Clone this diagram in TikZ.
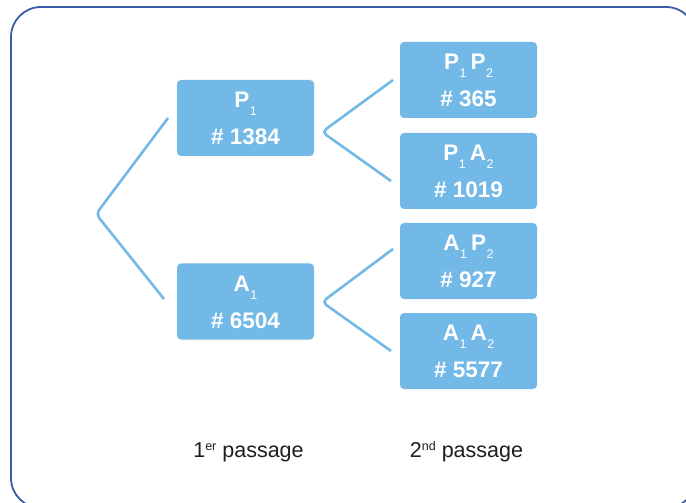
\documentclass[tikz,border=0pt]{standalone}
\usepackage{fontspec}
\setmainfont{Liberation Sans}
\usetikzlibrary{calc}
\definecolor{boxblue}{HTML}{73B9E7}
\definecolor{frameblue}{HTML}{3A5DA8}
\definecolor{captext}{HTML}{1E1E1E}
% lowered index after a letter, raised ordinal suffix
\newcommand\lowidx[1]{\kern0.5bp\raisebox{-8bp}{\fontsize{12.5bp}{12.5bp}\selectfont\mdseries #1}}
\newcommand\upidx[1]{\raisebox{7bp}{\fontsize{12.5bp}{12.5bp}\selectfont #1}}
\begin{document}
\begin{tikzpicture}[x=1bp,y=-1bp,
  box/.style={fill=boxblue, rounded corners=4bp, minimum width=137bp, minimum height=76bp, inner sep=0pt},
  lbl/.style={anchor=base, text=white, font=\fontsize{22.5bp}{22.5bp}\selectfont\bfseries, inner sep=0pt},
  conn/.style={draw=boxblue, line width=2.6bp, rounded corners=5bp},
  coltitle/.style={anchor=base, text=captext, font=\fontsize{21.5bp}{21.5bp}\selectfont, inner sep=0pt}]
\useasboundingbox (0,0) rectangle (686,503);
\clip (0,0) rectangle (686,503);
% outer frame, running past the right and bottom edges
\draw[frameblue, line width=1.8bp, rounded corners=30bp] (11,7) rectangle (696,508);

% first pass
\node[box] (p1) at (245.5,118) {};
\node[box] (a1) at (245.5,301.5) {};
% second pass
\node[box] (p1p2) at (468.5,80) {};
\node[box] (p1a2) at (468.5,171) {};
\node[box] (a1p2) at (468.5,261) {};
\node[box] (a1a2) at (468.5,351) {};

% box labels
\node[lbl] (p1x) at ($(p1.north)+(0,28)$) {P\lowidx{1}};
\node[lbl] (p1n) at ($(p1.north)+(0,65)$) {\# 1384};
\node[lbl] (a1x) at ($(a1.north)+(0,28)$) {A\lowidx{1}};
\node[lbl] (a1n) at ($(a1.north)+(0,65)$) {\# 6504};
\node[lbl] (p1p2x) at ($(p1p2.north)+(0,27.5)$) {P\lowidx{1}\kern4bp P\lowidx{2}};
\node[lbl] (p1p2n) at ($(p1p2.north)+(0,65)$) {\# 365};
\node[lbl] (p1a2x) at ($(p1a2.north)+(0,27.5)$) {P\lowidx{1}\kern4bp A\lowidx{2}};
\node[lbl] (p1a2n) at ($(p1a2.north)+(0,65)$) {\# 1019};
\node[lbl] (a1p2x) at ($(a1p2.north)+(0,27.5)$) {A\lowidx{1}\kern4bp P\lowidx{2}};
\node[lbl] (a1p2n) at ($(a1p2.north)+(0,65)$) {\# 927};
\node[lbl] (a1a2x) at ($(a1a2.north)+(0,27.5)$) {A\lowidx{1}\kern4bp A\lowidx{2}};
\node[lbl] (a1a2n) at ($(a1a2.north)+(0,65)$) {\# 5577};

% branching connectors
\coordinate (l0) at (168,118);
\coordinate (lv) at (96,214);
\coordinate (l1) at (164,299);
\draw[conn] (l0) -- (lv) -- (l1);
\coordinate (u0) at (393,80);
\coordinate (uv) at (322,132);
\coordinate (u1) at (391,181);
\draw[conn] (u0) -- (uv) -- (u1);
\coordinate (d0) at (393,249);
\coordinate (dv) at (322,302);
\coordinate (d1) at (391,351);
\draw[conn] (d0) -- (dv) -- (d1);

% column captions
\node[coltitle] (c1) at (248.5,457) {1\upidx{er} passage};
\node[coltitle] (c2) at (466.5,457) {2\upidx{nd} passage};
\end{tikzpicture}
\end{document}
